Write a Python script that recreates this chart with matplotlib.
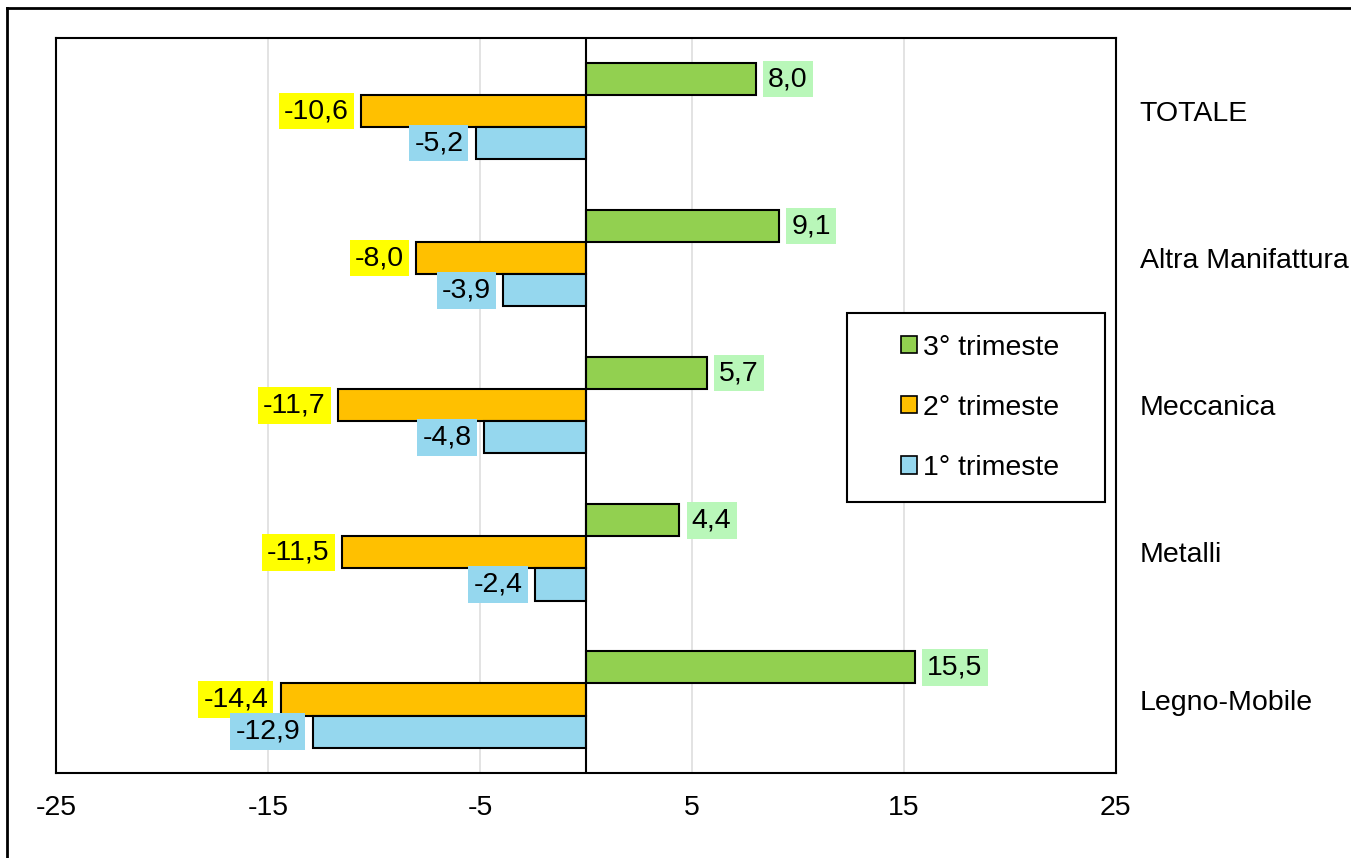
import numpy as np
import matplotlib
matplotlib.use('Agg')
import matplotlib.pyplot as plt
from matplotlib.patches import Rectangle, Patch
from matplotlib.lines import Line2D

plt.rcParams['font.family'] = ['Liberation Sans', 'DejaVu Sans']

# categories listed bottom -> top
categories = ['Legno-Mobile', 'Metalli', 'Meccanica', 'Altra Manifattura', 'TOTALE']
q3 = [15.5, 4.4, 5.7, 9.1, 8.0]
q2 = [-14.4, -11.5, -11.7, -8.0, -10.6]
q1 = [-12.9, -2.4, -4.8, -3.9, -5.2]
series_names = ['3° trimeste', '2° trimeste', '1° trimeste']
x_ticks = [-25, -15, -5, 5, 15, 25]

bar_colors = ['#92d050', '#ffc000', '#95d7ee']
label_bg = ['#b9f7b9', '#ffff00', '#95d7ee']

fs = 20.5
fig = plt.figure(figsize=(13.51, 8.58), dpi=100)
ax = fig.add_axes([0.0415, 0.099, 0.7845, 0.857])

y = np.arange(len(categories))
h = 0.218
offsets = [h, 0, -h]
for vals, off, col, bg, name in zip([q3, q2, q1], offsets, bar_colors, label_bg, series_names):
    ax.barh(y + off, vals, height=h, color=col, edgecolor='black', linewidth=1.5, zorder=3, label=name)
    for yi, v in zip(y, vals):
        txt = ('%.1f' % v).replace('.', ',')
        ax.annotate(txt, (v, yi + off), xytext=(9 if v > 0 else -9, 0), textcoords='offset points',
                    ha='left' if v > 0 else 'right', va='center', fontsize=fs,
                    bbox=dict(boxstyle='square,pad=0.18', fc=bg, ec='none'), zorder=4)

ax.axvline(0, color='black', lw=1.5, zorder=4)
ax.set_xlim(-25, 25)
ax.set_ylim(-0.5, len(categories) - 0.5)
ax.set_xticks(x_ticks)
ax.set_xticklabels([str(t) for t in x_ticks], fontsize=fs)
for gx in x_ticks[1:-1]:
    ax.axvline(gx, color='#e0e0e0', lw=1.3, zorder=1)
ax.tick_params(axis='x', length=0, pad=16)

ax.yaxis.tick_right()
ax.set_yticks(y)
ax.set_yticklabels(categories, fontsize=fs)
ax.tick_params(axis='y', length=0, pad=17)
for s in ax.spines.values():
    s.set_linewidth(1.5)
    s.set_color('black')

# legend box
ax.add_patch(Rectangle((0.746, 0.3687), 0.2434, 0.257, transform=ax.transAxes,
                       fill=True, fc='white', ec='black', lw=1.5, zorder=5))
handles = [Patch(facecolor=c, edgecolor='black', linewidth=1.2) for c in bar_colors]
leg = fig.legend(handles, series_names, loc='center', bbox_to_anchor=(0.7254, 0.5245),
                 frameon=False, fontsize=fs, labelspacing=1.2, handlelength=0.55,
                 handleheight=0.55, handletextpad=0.2)
leg.set_zorder(6)

# outer border (top and left only visible)
fig.add_artist(Line2D([0.0052, 1.0], [0.9907, 0.9907], color='black', lw=2, transform=fig.transFigure))
fig.add_artist(Line2D([0.0052, 0.0052], [0.0, 0.9907], color='black', lw=2, transform=fig.transFigure))

fig.savefig('out.png', dpi=100)
